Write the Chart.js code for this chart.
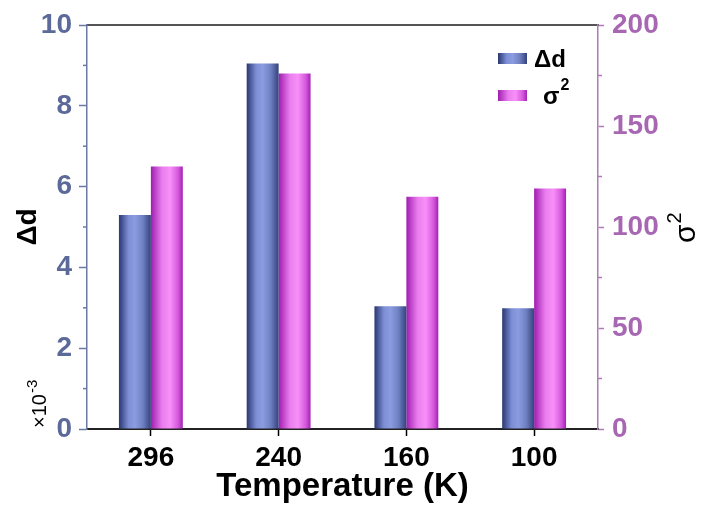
<!DOCTYPE html>
<html>
<head>
<meta charset="utf-8">
<script src="https://cdn.jsdelivr.net/npm/chart.js@4"></script>
<style>
  body { margin: 0; background: #fff; }
  #chart { display: block; }
</style>
</head>
<body>
<canvas id="chart" width="706" height="507"></canvas>
<script>
const temps = ['296', '240', '160', '100'];
const deltaD = [5.3, 9.05, 3.04, 2.99];     // x10^-3
const sigma2 = [130, 176, 115, 119];
const leftTicks = [0, 2, 4, 6, 8, 10];
const rightTicks = [0, 50, 100, 150, 200];

const FONT = "'Liberation Sans', Arial, sans-serif";
const leftColor = '#5b6a99';
const rightColor = '#a767b3';

const blueStops = [[0, '#2a3772'], [0.3, '#7d8fd6'], [0.5, '#8b9ce0'], [0.75, '#6f80c2'], [1, '#34427c']];
const pinkStops = [[0, '#a01db0'], [0.35, '#e97ded'], [0.6, '#f890f8'], [0.85, '#d558dc'], [1, '#a322b3']];

function makeGradient(ctx, left, width, stops) {
    const g = ctx.createLinearGradient(left, 0, left + width, 0);
    stops.forEach(s => g.addColorStop(s[0], s[1]));
    return g;
}

// gradient for each bar, computed from the category scale
function barFill(stops) {
    return function (context) {
        const chart = context.chart;
        const xs = chart.scales.x;
        if (!xs || context.dataIndex === undefined) return stops[2][1];
        const center = xs.getPixelForValue(context.dataIndex);
        const bw = xs.width / temps.length * 0.5 / 2;
        if (!isFinite(center) || !isFinite(bw) || bw <= 0) return stops[2][1];
        const left = context.datasetIndex === 0 ? center - bw : center;
        return makeGradient(chart.ctx, left, bw, stops);
    };
}

const extras = {
    id: 'extras',
    afterDraw(chart) {
        const ctx = chart.ctx;
        const y = chart.scales.y;
        const y1 = chart.scales.y1;
        const area = chart.chartArea;
        ctx.save();

        // minor ticks
        ctx.lineWidth = 1.5;
        ctx.strokeStyle = '#6b7aa5';
        [1, 3, 5, 7, 9].forEach(v => {
            const p = y.getPixelForValue(v);
            ctx.beginPath(); ctx.moveTo(y.right - 4, p); ctx.lineTo(y.right, p); ctx.stroke();
        });
        ctx.strokeStyle = '#b07ab8';
        [25, 75, 125, 175].forEach(v => {
            const p = y1.getPixelForValue(v);
            ctx.beginPath(); ctx.moveTo(y1.left, p); ctx.lineTo(y1.left + 4, p); ctx.stroke();
        });

        ctx.fillStyle = '#000';
        ctx.textAlign = 'left';
        ctx.textBaseline = 'alphabetic';

        // x10^-3 multiplier
        ctx.save();
        ctx.translate(46, area.bottom - 1);
        ctx.rotate(-Math.PI / 2);
        ctx.font = '20px ' + FONT;
        ctx.fillText('\u00d710', 0, 0);
        const w1 = ctx.measureText('\u00d710').width;
        ctx.font = '15px ' + FONT;
        ctx.fillText('-3', w1 + 1, -9);
        ctx.restore();

        // right axis title
        ctx.save();
        ctx.translate(695, 243);
        ctx.rotate(-Math.PI / 2);
        ctx.font = '30px ' + FONT;
        ctx.fillText('\u03c3', 0, 0);
        const w2 = ctx.measureText('\u03c3').width;
        ctx.font = '20px ' + FONT;
        ctx.fillText('2', w2 + 1, -14);
        ctx.restore();

        // legend
        const lx = area.right - 100;
        const items = [
            { top: area.top + 28, stops: blueStops, text: '\u0394d', sup: null },
            { top: area.top + 65, stops: pinkStops, text: '\u03c3', sup: '2' }
        ];
        items.forEach(it => {
            ctx.fillStyle = makeGradient(ctx, lx, 29, it.stops);
            ctx.fillRect(lx, it.top, 29, 11);
            ctx.fillStyle = '#000';
            ctx.font = 'bold 24px ' + FONT;
            const tx = it.sup ? lx + 45 : lx + 36;
            ctx.textBaseline = 'middle';
            ctx.fillText(it.text, tx, it.top + 7);
            if (it.sup) {
                const w = ctx.measureText(it.text).width;
                ctx.font = 'bold 16px ' + FONT;
                ctx.fillText(it.sup, tx + w + 1, it.top - 4);
            }
        });
        ctx.restore();
    }
};

new Chart(document.getElementById('chart'), {
    type: 'bar',
    data: {
        labels: temps,
        datasets: [
            {
                label: '\u0394d',
                data: deltaD,
                yAxisID: 'y',
                backgroundColor: barFill(blueStops),
                categoryPercentage: 0.5,
                barPercentage: 1.0
            },
            {
                label: '\u03c3\u00b2',
                data: sigma2,
                yAxisID: 'y1',
                backgroundColor: barFill(pinkStops),
                categoryPercentage: 0.5,
                barPercentage: 1.0
            }
        ]
    },
    options: {
        responsive: false,
        animation: false,
        layout: { padding: { top: 25, left: 0, right: 0, bottom: 0 } },
        plugins: {
            legend: { display: false },
            tooltip: { enabled: false }
        },
        scales: {
            x: {
                ticks: { color: '#000', font: { family: FONT, size: 28, weight: 'bold' }, padding: 5 },
                grid: { offset: false, drawOnChartArea: false, color: '#000', tickLength: 7, tickWidth: 1.5 },
                border: { color: '#222', width: 2 },
                title: { display: true, text: 'Temperature (K)', color: '#000', font: { family: FONT, size: 33, weight: 'bold' }, padding: 0 },
                afterFit: s => { s.height = 78; }
            },
            xTop: {
                type: 'category',
                position: 'top',
                ticks: { display: false },
                grid: { display: false },
                border: { color: '#555', width: 2 },
                afterFit: s => { s.height = 0; }
            },
            y: {
                position: 'left',
                min: 0,
                max: 10,
                afterBuildTicks: s => { s.ticks = leftTicks.map(v => ({ value: v })); },
                ticks: { color: leftColor, font: { family: FONT, size: 28, weight: 'bold' }, padding: 7 },
                grid: { drawOnChartArea: false, color: '#6b7aa5', tickLength: 8, tickWidth: 1.5 },
                border: { color: '#6b7aa5', width: 1.5 },
                title: { display: true, text: '\u0394d', color: '#000', font: { family: FONT, size: 28, weight: 'bold' }, padding: { top: 11 } },
                afterFit: s => { s.width = 87; }
            },
            y1: {
                position: 'right',
                min: 0,
                max: 200,
                afterBuildTicks: s => { s.ticks = rightTicks.map(v => ({ value: v })); },
                ticks: { color: rightColor, font: { family: FONT, size: 28, weight: 'bold' }, padding: 8 },
                grid: { drawOnChartArea: false, color: '#b07ab8', tickLength: 6, tickWidth: 1.5 },
                border: { color: '#b07ab8', width: 1.5 },
                afterFit: s => { s.width = 108; }
            }
        }
    },
    plugins: [extras]
});
</script>
</body>
</html>
